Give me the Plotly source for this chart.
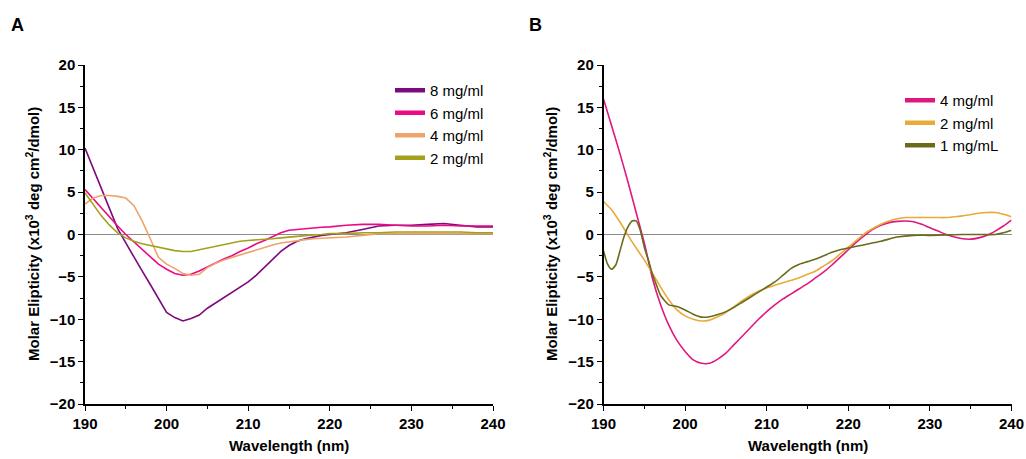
import plotly.graph_objects as go

# ---------------- Panel A data ----------------
wl_a = [190, 191, 192, 193, 194, 195, 196, 197, 198, 199, 200, 201, 202, 203, 204, 205,
        206, 207, 208, 209, 210, 211, 212, 213, 214, 215, 216, 217, 218, 219, 220,
        222, 224, 226, 228, 230, 232, 234, 236, 238, 240]

a_8mg = [10.2, 7.8, 5.4, 3.0, 0.7, -1.0, -2.7, -4.3, -5.9, -7.6, -9.2, -9.8, -10.2, -9.9, -9.5, -8.7,
         -8.1, -7.4, -6.8, -6.2, -5.6, -4.8, -3.9, -2.9, -2.0, -1.3, -0.8, -0.5, -0.3, -0.1, 0.0,
         0.2, 0.6, 1.0, 1.1, 1.1, 1.2, 1.3, 1.1, 0.9, 0.9]

a_6mg = [5.3, 4.2, 3.1, 2.0, 1.0, 0.0, -0.9, -1.8, -2.7, -3.5, -4.1, -4.6, -4.8, -4.7, -4.3, -3.8,
         -3.3, -2.9, -2.5, -2.0, -1.6, -1.1, -0.7, -0.2, 0.2, 0.5, 0.6, 0.7, 0.8, 0.85, 0.9,
         1.1, 1.2, 1.2, 1.1, 1.0, 1.0, 1.1, 1.0, 1.0, 1.0]

a_4mg = [3.6, 4.3, 4.6, 4.6, 4.5, 4.3, 3.4, 1.6, -0.5, -2.7, -3.5, -4.0, -4.6, -4.8, -4.7, -3.9,
         -3.4, -3.0, -2.7, -2.4, -2.1, -1.8, -1.5, -1.25, -1.0, -0.85, -0.7, -0.6, -0.5, -0.45, -0.4,
         -0.3, -0.1, 0.1, 0.1, 0.1, 0.1, 0.1, 0.1, 0.1, 0.1]

a_2mg = [4.9, 3.5, 2.2, 1.1, 0.2, -0.4, -0.8, -1.1, -1.3, -1.5, -1.7, -1.9, -2.0, -2.0, -1.8, -1.6,
         -1.4, -1.2, -1.0, -0.8, -0.7, -0.65, -0.6, -0.5, -0.4, -0.3, -0.2, -0.1, -0.05, 0.0, 0.1,
         0.1, 0.2, 0.2, 0.3, 0.3, 0.3, 0.3, 0.3, 0.2, 0.2]

# ---------------- Panel B data ----------------
wl_b = [190, 191, 192, 193, 194, 195, 196, 197, 198, 199, 200, 201, 202, 203, 204, 205,
        206, 207, 208, 209, 210, 211, 212, 213, 214, 215, 216, 217, 218, 219, 220,
        221, 222, 223, 224, 225, 226, 227, 228, 229, 230, 231, 232, 233, 234, 235,
        236, 237, 238, 239, 240]

b_4mg = [16.0, 12.8, 9.6, 6.2, 2.6, -1.0, -5.2, -8.3, -10.7, -12.5, -13.8, -14.8, -15.2, -15.2, -14.7, -14.0,
         -13.0, -12.0, -11.0, -10.0, -9.1, -8.3, -7.6, -7.0, -6.4, -5.8, -5.1, -4.4, -3.6, -2.7, -1.8,
         -0.9, -0.1, 0.6, 1.1, 1.4, 1.55, 1.6, 1.5, 1.2, 0.8, 0.4, 0.0, -0.3, -0.5, -0.55,
         -0.4, -0.1, 0.4, 1.0, 1.7]

b_2mg = [3.9, 2.9, 1.5, -0.1, -1.6, -3.0, -4.6, -6.2, -7.7, -8.9, -9.6, -10.0, -10.2, -10.1, -9.7, -9.2,
         -8.5, -7.8, -7.2, -6.7, -6.3, -6.0, -5.7, -5.4, -5.1, -4.7, -4.3, -3.7, -3.1, -2.3, -1.5,
         -0.7, 0.1, 0.7, 1.2, 1.6, 1.85, 2.0, 2.0, 2.0, 2.0, 2.0, 2.0, 2.1, 2.2, 2.35,
         2.5, 2.6, 2.6, 2.4, 2.1]

wl_b1 = [190, 190.5, 191, 191.5, 192, 192.5, 193, 193.5, 194, 194.5, 195, 195.5, 196, 196.5, 197,
         198, 199, 200, 201, 202, 203, 204, 205, 206, 207, 208, 209, 210, 211, 212, 213, 214,
         215, 216, 217, 218, 219, 220, 222, 224, 226, 228, 230, 232, 234, 236, 238, 239, 240]

b_1mg = [-1.9, -3.5, -4.1, -3.6, -2.0, -0.3, 0.9, 1.6, 1.6, 0.5, -1.5, -3.0, -4.7, -6.0, -7.2,
         -8.3, -8.5, -8.9, -9.4, -9.75, -9.7, -9.45, -9.1, -8.6, -8.0, -7.4, -6.8, -6.2, -5.6, -4.8, -4.0, -3.5,
         -3.2, -2.9, -2.5, -2.1, -1.8, -1.6, -1.2, -0.8, -0.3, -0.1, -0.1, -0.05, 0.0, 0.0, 0.0, 0.2, 0.5]

x_ticks = [190, 200, 210, 220, 230, 240]
y_ticks = [-20, -15, -10, -5, 0, 5, 10, 15, 20]

series_a = [("8 mg/ml", a_8mg, "#7d0a7d"),
            ("6 mg/ml", a_6mg, "#ec0a84"),
            ("4 mg/ml", a_4mg, "#eda46c"),
            ("2 mg/ml", a_2mg, "#a3a01c")]
series_b = [("4 mg/ml", wl_b, b_4mg, "#e0177f"),
            ("2 mg/ml", wl_b, b_2mg, "#e8aa3a"),
            ("1 mg/mL", wl_b1, b_1mg, "#6b6a1c")]

FONT = "Liberation Sans, Arial, sans-serif"

fig = go.Figure()

for name, ys, col in series_a:
    fig.add_trace(go.Scatter(x=wl_a, y=ys, mode="lines", line=dict(color=col, width=1.6),
                             showlegend=False, xaxis="x", yaxis="y", hoverinfo="skip"))
for name, ys, col in series_a:
    fig.add_trace(go.Scatter(x=[None], y=[None], mode="lines", name=name,
                             line=dict(color=col, width=4.5), legend="legend",
                             xaxis="x", yaxis="y"))

for name, xs, ys, col in series_b:
    fig.add_trace(go.Scatter(x=xs, y=ys, mode="lines", line=dict(color=col, width=1.6, shape="spline", smoothing=0.6),
                             showlegend=False, xaxis="x2", yaxis="y2", hoverinfo="skip"))
for name, xs, ys, col in series_b:
    fig.add_trace(go.Scatter(x=[None], y=[None], mode="lines", name=name,
                             line=dict(color=col, width=4.5), legend="legend2",
                             xaxis="x2", yaxis="y2"))

W, H = 1026, 459
ydom = [(H - 404) / H, (H - 65) / H]

def xaxis(dom, anchor):
    return dict(domain=dom, anchor=anchor, range=[190, 240], tickvals=x_ticks, automargin=False,
                showgrid=False, zeroline=False, showline=True, linecolor="black", linewidth=1.5,
                ticks="outside", ticklen=5, tickwidth=1.2, tickcolor="black",
                minor=dict(dtick=5, ticks="outside", ticklen=3, tickwidth=1, tickcolor="black", showgrid=False),
                tickfont=dict(family=FONT, size=15, color="black", weight="bold"))

def yaxis(anchor):
    return dict(domain=ydom, anchor=anchor, range=[-20, 20], tickvals=y_ticks, automargin=False,
                showgrid=False, zeroline=True, zerolinecolor="#8c8c8c", zerolinewidth=1,
                showline=True, linecolor="black", linewidth=1.5,
                ticks="outside", ticklen=5, tickwidth=1.2, tickcolor="black",
                minor=dict(dtick=2.5, ticks="outside", ticklen=3, tickwidth=1, tickcolor="black", showgrid=False),
                tickfont=dict(family=FONT, size=15, color="black", weight="bold"))

ytitle = "Molar Elipticity (x10<sup>3</sup> deg cm<sup>2</sup>/dmol)"

fig.update_layout(
    width=W, height=H, margin=dict(l=0, r=0, t=0, b=0, autoexpand=False),
    paper_bgcolor="white", plot_bgcolor="white",
    font=dict(family=FONT, color="black"),
    xaxis=xaxis([85 / W, 493 / W], "y"),
    yaxis=yaxis("x"),
    xaxis2=xaxis([603.5 / W, 1011.5 / W], "y2"),
    yaxis2=yaxis("x2"),
    legend=dict(x=390 / W, y=1 - 74 / H, xanchor="left", yanchor="top",
                font=dict(family=FONT, size=15, color="black"), bgcolor="rgba(0,0,0,0)",
                tracegroupgap=0, itemwidth=30),
    legend2=dict(x=900 / W, y=1 - 84 / H, xanchor="left", yanchor="top",
                 font=dict(family=FONT, size=15, color="black"), bgcolor="rgba(0,0,0,0)",
                 tracegroupgap=0, itemwidth=30),
    annotations=[
        dict(text="<b>A</b>", x=17 / W, y=1 - 25 / H, xref="paper", yref="paper", showarrow=False,
             font=dict(family=FONT, size=18, color="black"), xanchor="center", yanchor="middle"),
        dict(text="<b>B</b>", x=535 / W, y=1 - 25 / H, xref="paper", yref="paper", showarrow=False,
             font=dict(family=FONT, size=18, color="black"), xanchor="center", yanchor="middle"),
        dict(text="<b>Wavelength (nm)</b>", x=289 / W, y=1 - 445 / H, xref="paper", yref="paper",
             showarrow=False, font=dict(family=FONT, size=15, color="black"), xanchor="center", yanchor="middle"),
        dict(text="<b>Wavelength (nm)</b>", x=807.5 / W, y=1 - 445 / H, xref="paper", yref="paper",
             showarrow=False, font=dict(family=FONT, size=15, color="black"), xanchor="center", yanchor="middle"),
        dict(text="<b>" + ytitle + "</b>", x=33 / W, y=1 - 234 / H, xref="paper", yref="paper", textangle=-90,
             showarrow=False, font=dict(family=FONT, size=15, color="black"), xanchor="center", yanchor="middle"),
        dict(text="<b>" + ytitle + "</b>", x=551 / W, y=1 - 234 / H, xref="paper", yref="paper", textangle=-90,
             showarrow=False, font=dict(family=FONT, size=15, color="black"), xanchor="center", yanchor="middle"),
    ],
)

fig.write_html("out.html")
